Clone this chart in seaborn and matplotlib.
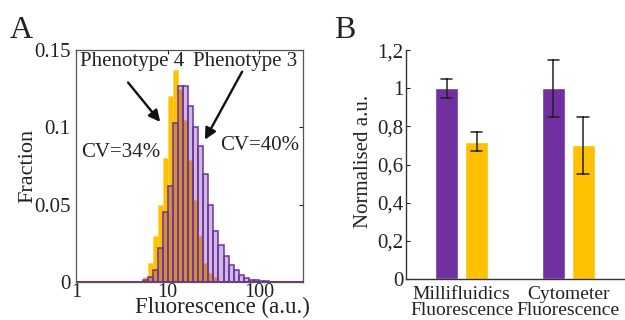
import numpy as np
import pandas as pd
import matplotlib
matplotlib.use("Agg")
import matplotlib.pyplot as plt
import seaborn as sns

# ---------------- data: panel A (histogram, fraction per log-spaced bin) -------------
bin_centers = [5.72, 6.49, 7.37, 8.36, 9.49, 10.78, 12.23, 13.88, 15.76, 17.88,
               20.30, 23.04, 26.15, 29.68, 33.69, 38.24, 43.40, 49.26, 55.91, 63.46,
               72.03, 81.75, 92.79, 105.3, 119.5, 135.7]
log_bin_range = (0.73, 2.16)
phenotype3 = [0.001, 0.003, 0.008, 0.022, 0.045, 0.062, 0.103, 0.127, 0.127, 0.114,
              0.100, 0.088, 0.070, 0.050, 0.033, 0.024, 0.017, 0.011, 0.0075, 0.0045,
              0.0025, 0.0015, 0.001, 0.0007, 0.0004, 0.0002]
phenotype4 = [0.003, 0.012, 0.030, 0.050, 0.080, 0.120, 0.137, 0.125, 0.105, 0.079,
              0.053, 0.030, 0.012, 0.006, 0.003, 0.0, 0.0, 0.0, 0.0, 0.0,
              0.0, 0.0, 0.0, 0.0, 0.0, 0.0]
a_yticks = [0, 0.05, 0.1, 0.15]
a_yticklabels = ["0", "0.05", "0.1", "0.15"]
a_xticks = [1, 10, 100]
a_xticklabels = ["1", "10", "100"]

# ---------------- data: panel B (bars) -----------------------------------------------
methods = ["Millifluidics\nFluorescence", "Cytometer\nFluorescence"]
phenotypes = ["Phenotype 3", "Phenotype 4"]
means = {"Phenotype 3": [1.0, 1.0], "Phenotype 4": [0.72, 0.70]}
errors = {"Phenotype 3": [0.05, 0.15], "Phenotype 4": [0.05, 0.15]}
b_yticks = [0, 0.2, 0.4, 0.6, 0.8, 1.0, 1.2]
b_yticklabels = ["0", "0,2", "0,4", "0,6", "0,8", "1", "1,2"]

PURPLE = "#7030A0"
GOLD = "#FFC000"
TXT = "#222222"
FS = 15

sns.set_theme(style="white")
plt.rcParams["font.family"] = ["Liberation Serif", "DejaVu Serif"]
plt.rcParams["text.color"] = TXT
plt.rcParams["axes.labelcolor"] = TXT
plt.rcParams["xtick.color"] = TXT
plt.rcParams["ytick.color"] = TXT

fig = plt.figure(figsize=(6.25, 3.2), dpi=100)

# ================= Panel A =================
axA = fig.add_axes([0.1216, 0.11875, 0.3632, 0.725])
sns.histplot(x=bin_centers, weights=phenotype4, bins=len(bin_centers),
             binrange=log_bin_range, log_scale=True, stat="count",
             element="bars", fill=True, facecolor=GOLD, edgecolor="#FFD24D",
             linewidth=0.4, alpha=1.0, ax=axA)
sns.histplot(x=bin_centers, weights=phenotype3, bins=len(bin_centers),
             binrange=log_bin_range, log_scale=True, stat="count",
             element="bars", fill=True,
             facecolor=matplotlib.colors.to_rgba(PURPLE, 0.33),
             edgecolor=PURPLE, linewidth=1.1, ax=axA)
axA.axhline(0, color=PURPLE, lw=2.2, zorder=5)
axA.set_xlim(1, 300)
axA.set_ylim(0, 0.15)
axA.set_xticks(a_xticks)
axA.set_xticklabels(a_xticklabels)
axA.xaxis.set_minor_locator(matplotlib.ticker.NullLocator())
axA.set_yticks(a_yticks)
axA.set_yticklabels(a_yticklabels)
axA.tick_params(axis="y", labelsize=FS, direction="in", length=3,
                right=True, width=0.8, pad=4)
axA.tick_params(axis="x", labelsize=14.5, direction="in", length=3,
                top=True, width=0.8, pad=1)
for s in axA.spines.values():
    s.set_visible(True)
    s.set_color("#555555")
    s.set_linewidth(0.9)
axA.set_xlabel("Fluorescence (a.u.)", fontsize=16.5, va="bottom")
axA.xaxis.set_label_coords(0.645, -0.155)
axA.set_ylabel("Fraction", fontsize=16)
axA.yaxis.set_label_coords(-0.17, 0.50)

axA.text(4.1, 0.1425, "Phenotype 4", fontsize=FS, ha="center", va="center")
axA.text(70, 0.1425, "Phenotype 3", fontsize=FS, ha="center", va="center")
axA.text(3.1, 0.084, "CV=34%", fontsize=FS, ha="center", va="center")
axA.text(100, 0.0885, "CV=40%", fontsize=FS, ha="center", va="center")
axA.annotate("", xy=(8.3, 0.1035), xytext=(3.7, 0.129),
             arrowprops=dict(arrowstyle="-|>", color="#111111", lw=1.7,
                             mutation_scale=17, shrinkA=0, shrinkB=0))
axA.annotate("", xy=(25.5, 0.092), xytext=(65, 0.136),
             arrowprops=dict(arrowstyle="-|>", color="#111111", lw=1.7,
                             mutation_scale=17, shrinkA=0, shrinkB=0))
fig.text(0.016, 0.905, "A", fontsize=23, ha="left", va="center")

# ================= Panel B =================
axB = fig.add_axes([0.6496, 0.128, 0.3504, 0.7156])
rows = []
for ph in phenotypes:
    for m, mu, e in zip(methods, means[ph], errors[ph]):
        rows.append({"method": m, "phenotype": ph, "value": mu - e})
        rows.append({"method": m, "phenotype": ph, "value": mu + e})
dfB = pd.DataFrame(rows)
sns.barplot(data=dfB, x="method", y="value", hue="phenotype", order=methods,
            hue_order=phenotypes, palette=[PURPLE, GOLD], saturation=1,
            width=0.56, gap=0.23, estimator="mean",
            errorbar=lambda v: (v.min(), v.max()), capsize=0.22,
            err_kws={"color": "#222222", "linewidth": 1.1},
            legend=False, ax=axB)
axB.set_xlim(-0.52, 1.53)
axB.set_ylim(0, 1.2)
axB.set_yticks(b_yticks)
axB.set_yticklabels(b_yticklabels)
axB.tick_params(axis="y", labelsize=FS, direction="in", length=3, width=0.8,
                left=True, pad=2)
axB.tick_params(axis="x", labelsize=14, length=0, pad=5)
for lab in axB.get_xticklabels():
    lab.set_linespacing(0.9)
for side in ["top", "right"]:
    axB.spines[side].set_visible(False)
for side in ["left", "bottom"]:
    axB.spines[side].set_color("#333333")
    axB.spines[side].set_linewidth(1.0)
axB.set_xlabel("")
axB.set_ylabel("Normalised a.u.", fontsize=FS)
axB.yaxis.set_label_coords(-0.15, 0.515)
fig.text(0.535, 0.905, "B", fontsize=23, ha="left", va="center")

fig.savefig("out.png", dpi=100)
